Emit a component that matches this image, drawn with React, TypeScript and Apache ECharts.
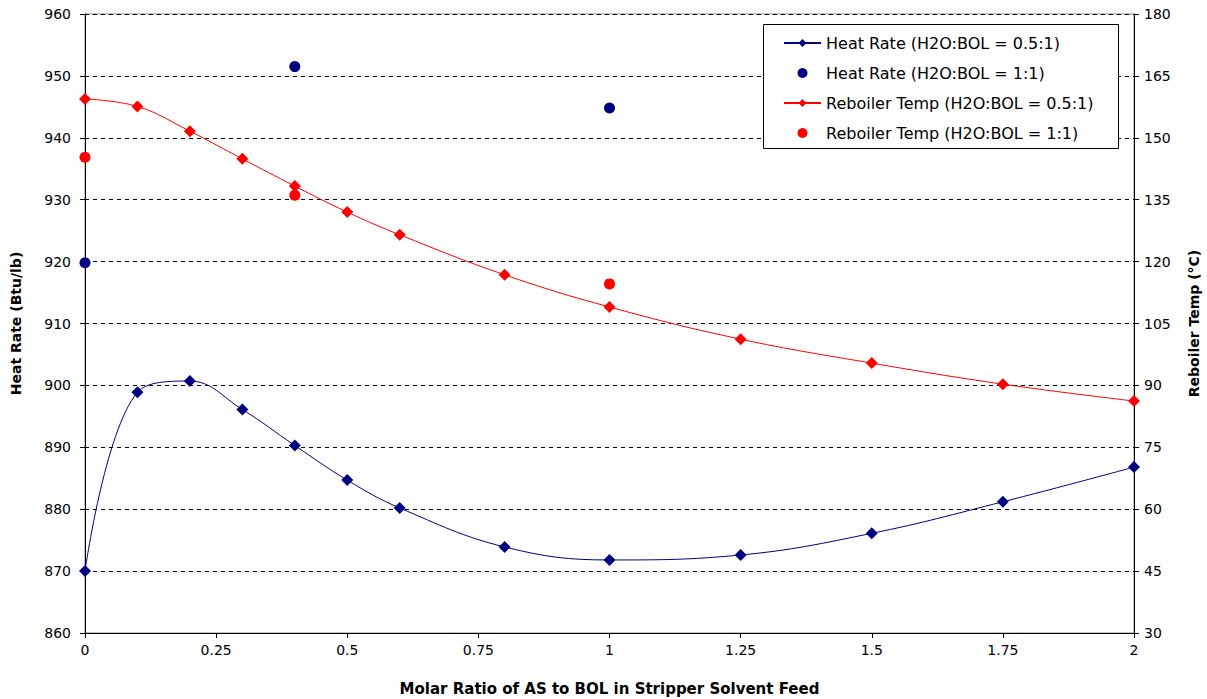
import React, { useEffect, useRef } from "react";
import * as echarts from "echarts";

const xLine = [0, 0.1, 0.2, 0.3, 0.4, 0.5, 0.6, 0.8, 1.0, 1.25, 1.5, 1.75, 2.0];
const heatRate05 = [870.0, 898.9, 900.7, 896.1, 890.3, 884.7, 880.2, 873.9, 871.8, 872.6, 876.1, 881.2, 886.8];
const reboilerTemp05 = [159.4, 157.6, 151.6, 144.9, 138.3, 132.0, 126.5, 116.8, 109.0, 101.2, 95.4, 90.3, 86.2];
const xPoints = [0, 0.4, 1.0];
const heatRate11 = [919.8, 951.5, 944.8];
const reboilerTemp11 = [145.3, 136.1, 114.6];

const NAVY = "#000080";
const RED = "#FF0000";
const FONT = "DejaVu Sans, Verdana, sans-serif";

export default function App() {
  const ref = useRef<HTMLDivElement>(null);
  useEffect(() => {
    const chart = echarts.init(ref.current!, undefined, { renderer: "svg" });
    const zip = (xs: number[], ys: number[]) => xs.map((x, i) => [x, ys[i]]);
    chart.setOption({
      animation: false,
      backgroundColor: "#ffffff",
      textStyle: { fontFamily: FONT },
      grid: {
        left: 85,
        right: 73,
        top: 14,
        bottom: 66,
        show: true,
        borderColor: "#888888",
        borderWidth: 1,
        containLabel: false,
        outerBoundsMode: "none",
      },
      graphic: [
        {
          type: "rect",
          left: 763,
          top: 24,
          z: 10,
          shape: { width: 355, height: 124 },
          style: { fill: "#ffffff", stroke: "#000000", lineWidth: 1 },
        },
      ],
      legend: {
        orient: "vertical",
        left: 783,
        top: 35,
        padding: 0,
        itemGap: 14,
        itemWidth: 37,
        itemHeight: 10,
        z: 20,
        textStyle: { fontFamily: FONT, fontSize: 16, color: "#000000" },
        data: [
          "Heat Rate (H2O:BOL = 0.5:1)",
          "Heat Rate (H2O:BOL = 1:1)",
          "Reboiler Temp (H2O:BOL = 0.5:1)",
          "Reboiler Temp (H2O:BOL = 1:1)",
        ],
      },
      xAxis: {
        type: "value",
        min: 0,
        max: 2,
        interval: 0.25,
        name: "Molar Ratio of AS to BOL in Stripper Solvent Feed",
        nameLocation: "middle",
        nameGap: 48,
        nameTextStyle: { fontFamily: FONT, fontSize: 15, fontWeight: "bold", color: "#000" },
        axisLine: { onZero: false, lineStyle: { color: "#000", width: 1 } },
        axisTick: { show: true, length: 5, lineStyle: { color: "#000" } },
        axisLabel: { fontFamily: FONT, fontSize: 14, color: "#000", margin: 10 },
        splitLine: { show: false },
      },
      yAxis: [
        {
          type: "value",
          min: 860,
          max: 960,
          interval: 10,
          name: "Heat Rate (Btu/lb)",
          nameLocation: "middle",
          nameGap: 62,
          nameTextStyle: { fontFamily: FONT, fontSize: 14, fontWeight: "bold", color: "#000" },
          axisLine: { show: true, lineStyle: { color: "#000", width: 1 } },
          axisTick: { show: true, length: 5, lineStyle: { color: "#000" } },
          axisLabel: { fontFamily: FONT, fontSize: 14, color: "#000", margin: 14 },
          splitLine: { show: true, lineStyle: { color: "#000", type: [4, 4], width: 1 } },
        },
        {
          type: "value",
          min: 30,
          max: 180,
          interval: 15,
          position: "right",
          name: "Reboiler Temp (°C)",
          nameLocation: "middle",
          nameGap: 53,
          nameTextStyle: { fontFamily: FONT, fontSize: 14, fontWeight: "bold", color: "#000" },
          axisLine: { show: true, lineStyle: { color: "#000", width: 1 } },
          axisTick: { show: true, length: 5, lineStyle: { color: "#000" } },
          axisLabel: { fontFamily: FONT, fontSize: 14, color: "#000", margin: 10 },
          splitLine: { show: false },
        },
      ],
      series: [
        {
          name: "Heat Rate (H2O:BOL = 0.5:1)",
          type: "line",
          yAxisIndex: 0,
          data: zip(xLine, heatRate05),
          smooth: 0.4,
          symbol: "diamond",
          symbolSize: 12,
          itemStyle: { color: NAVY, opacity: 1 },
          lineStyle: { color: NAVY, width: 1 },
          z: 3,
        },
        {
          name: "Heat Rate (H2O:BOL = 1:1)",
          type: "scatter",
          yAxisIndex: 0,
          data: zip(xPoints, heatRate11),
          symbol: "circle",
          symbolSize: 11,
          itemStyle: { color: NAVY, opacity: 1 },
          z: 4,
        },
        {
          name: "Reboiler Temp (H2O:BOL = 0.5:1)",
          type: "line",
          yAxisIndex: 1,
          data: zip(xLine, reboilerTemp05),
          smooth: 0.4,
          symbol: "diamond",
          symbolSize: 12,
          itemStyle: { color: RED, opacity: 1 },
          lineStyle: { color: RED, width: 1 },
          z: 3,
        },
        {
          name: "Reboiler Temp (H2O:BOL = 1:1)",
          type: "scatter",
          yAxisIndex: 1,
          data: zip(xPoints, reboilerTemp11),
          symbol: "circle",
          symbolSize: 11,
          itemStyle: { color: RED, opacity: 1 },
          z: 4,
        },
      ],
    });
    return () => chart.dispose();
  }, []);
  return (
    <div
      ref={ref}
      style={{ position: "fixed", left: 0, top: 0, width: 1207, height: 699, background: "#fff" }}
    />
  );
}
